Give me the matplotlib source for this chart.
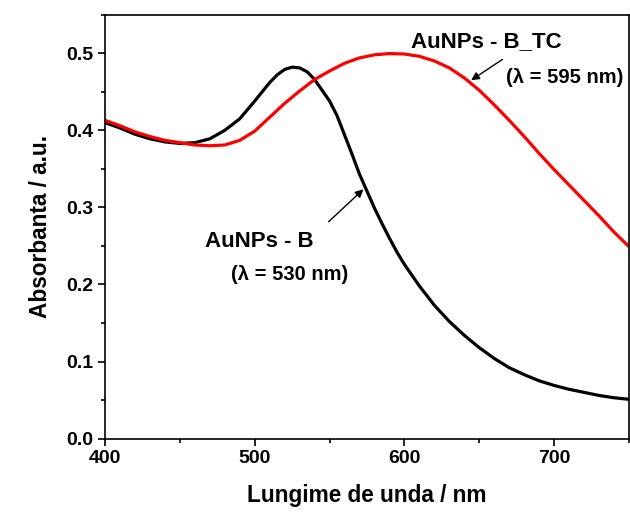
import numpy as np
import matplotlib.pyplot as plt
from matplotlib.ticker import MultipleLocator

plt.rcParams['font.family'] = ['Liberation Sans', 'DejaVu Sans']
plt.rcParams['font.weight'] = 'bold'

# UV-Vis spectra (wavelength in nm, absorbance in a.u.)
wl_b = [400, 410, 420, 430, 440, 450, 460, 470, 480, 490, 500, 510, 515, 520,
        525, 530, 535, 540, 545, 550, 555, 560, 565, 570, 575, 580, 585, 590,
        595, 600, 610, 620, 630, 640, 650, 660, 670, 680, 690, 700, 710, 720,
        730, 740, 750]
abs_b = [0.410, 0.403, 0.395, 0.389, 0.385, 0.383, 0.384, 0.389, 0.400, 0.415,
         0.438, 0.462, 0.472, 0.479, 0.482, 0.481, 0.476, 0.466, 0.452, 0.438,
         0.419, 0.394, 0.369, 0.343, 0.321, 0.299, 0.279, 0.260, 0.242, 0.226,
         0.198, 0.173, 0.152, 0.134, 0.118, 0.104, 0.092, 0.083, 0.075, 0.069,
         0.064, 0.060, 0.056, 0.053, 0.051]

wl_tc = [400, 410, 420, 430, 440, 450, 460, 470, 480, 490, 500, 510, 520, 530,
         540, 550, 560, 570, 580, 590, 600, 610, 620, 630, 640, 650, 660, 670,
         680, 690, 700, 710, 720, 730, 740, 750]
abs_tc = [0.413, 0.406, 0.398, 0.392, 0.387, 0.384, 0.381, 0.380, 0.381, 0.387,
          0.399, 0.417, 0.435, 0.451, 0.466, 0.477, 0.487, 0.494, 0.498, 0.4996,
          0.499, 0.496, 0.490, 0.481, 0.468, 0.452, 0.433, 0.413, 0.392, 0.370,
          0.349, 0.329, 0.309, 0.289, 0.268, 0.249]

fig = plt.figure(figsize=(6.3, 5.13), dpi=100)
ax = fig.add_axes([0.1667, 0.145, 0.8317, 0.8263])

ax.plot(wl_b, abs_b, color='black', lw=2.3, solid_joinstyle='round')
ax.plot(wl_tc, abs_tc, color='red', lw=2.3, solid_joinstyle='round')

ax.set_xlim(400, 750)
ax.set_ylim(0, 0.55)
ax.xaxis.set_major_locator(MultipleLocator(100))
ax.xaxis.set_minor_locator(MultipleLocator(50))
ax.yaxis.set_major_locator(MultipleLocator(0.1))
ax.yaxis.set_minor_locator(MultipleLocator(0.05))
ax.tick_params(which='both', direction='out', width=1.2, labelsize=14)
ax.tick_params(which='major', length=5)
ax.tick_params(which='minor', length=3)
for s in ax.spines.values():
    s.set_linewidth(1.2)

ax.set_xlabel('Lungime de unda / nm', fontsize=16.3, fontweight='bold', labelpad=12)
ax.set_ylabel('Absorbanta / a.u.', fontsize=16.3, fontweight='bold', labelpad=10)

# labels for the two spectra
ax.annotate('', xy=(574, 0.326), xytext=(548, 0.279),
            arrowprops=dict(arrowstyle='-|>', color='black', lw=1, mutation_scale=12))
ax.text(503, 0.256, 'AuNPs - B', fontsize=16, ha='center', va='center')
ax.text(523, 0.2125, '(λ = 530 nm)', fontsize=14.5, ha='center', va='center')

ax.annotate('', xy=(643, 0.463), xytext=(667, 0.494),
            arrowprops=dict(arrowstyle='-|>', color='black', lw=1, mutation_scale=12))
ax.text(655, 0.515, 'AuNPs - B_TC', fontsize=16, ha='center', va='center')
ax.text(707, 0.468, '(λ = 595 nm)', fontsize=14.5, ha='center', va='center')

fig.savefig('out.png', dpi=100)
